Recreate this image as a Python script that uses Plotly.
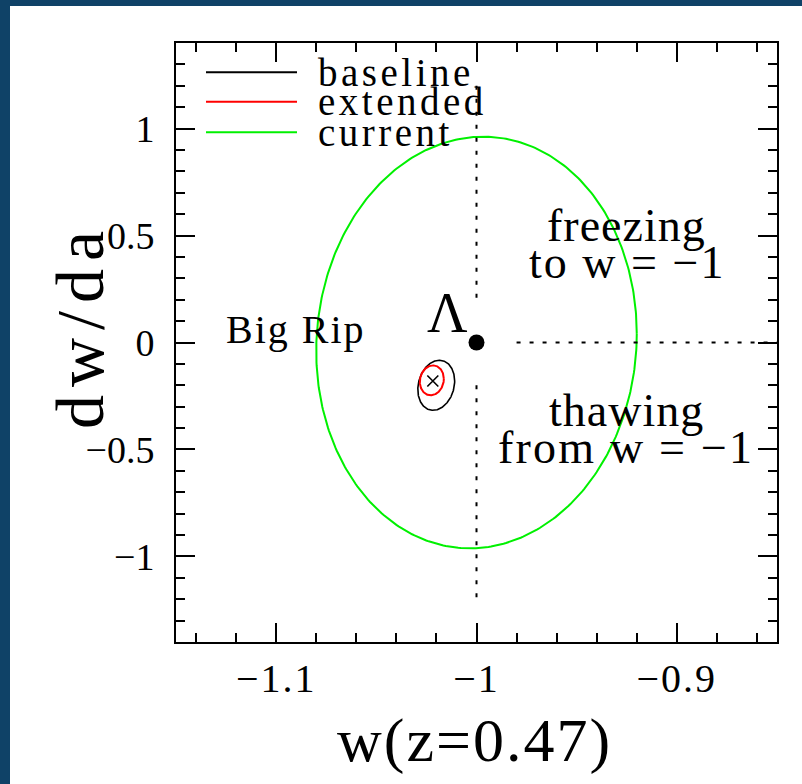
import numpy as np
import plotly.graph_objects as go

# ---- constraint ellipses: centre (w, dw/da), 1-sigma widths and correlation ----
ellipse_names = ["baseline", "extended", "current"]
ellipse_colors = ["black", "red", "#00f000"]
ellipse_cx = [-1.0201, -1.0223, -1.0]
ellipse_cy = [-0.200, -0.177, 0.0]
ellipse_sx = [0.0092, 0.0060, 0.0800]
ellipse_sy = [0.117, 0.070, 0.962]
ellipse_rho = [0.17, 0.10, 0.042]
ellipse_width = [1.6, 2.0, 2.0]

# fiducial model and cosmological constant
fiducial_w, fiducial_wa = -1.0218, -0.180
lambda_w, lambda_wa = -1.0, 0.0

# region boundaries (dotted)
vline_x = [-1.0, -1.0, None, -1.0, -1.0]
vline_y = [1.2, 0.2, None, -0.2, -1.2]
hline_x = [-0.98, -0.85]
hline_y = [0.0, 0.0]

# axis ticks
x_ticks = [-1.1, -1.0, -0.9]
x_ticklabels = ["\u22121.1", "\u22121", "\u22120.9"]
y_ticks = [-1.0, -0.5, 0.0, 0.5, 1.0]
y_ticklabels = ["\u22121", "\u22120.5", "0", "0.5", "1"]

FONT = "Liberation Serif"
W, H = 802, 784
ML, MR, MT, MB = 176, 25, 43, 142
PW, PH = W - ML - MR, H - MT - MB


def px(xp):
    return (xp - ML) / PW


def py(yp):
    return (H - MB - yp) / PH


def spaced(text, sp):
    return f'<span style="letter-spacing:{sp}px">{text}</span>'


fig = go.Figure()

t = np.linspace(0, 2 * np.pi, 400)
for name, col, cx, cy, sx, sy, rho, lw in zip(
        ellipse_names, ellipse_colors, ellipse_cx, ellipse_cy,
        ellipse_sx, ellipse_sy, ellipse_rho, ellipse_width):
    ex = cx + sx * np.cos(t)
    ey = cy + sy * (rho * np.cos(t) + np.sqrt(1 - rho ** 2) * np.sin(t))
    fig.add_trace(go.Scatter(x=ex, y=ey, mode="lines", name=name,
                             line=dict(color=col, width=lw), hoverinfo="skip"))

dot_style = dict(color="black", width=2, dash="4px,9px")
fig.add_trace(go.Scatter(x=vline_x, y=vline_y, mode="lines", line=dot_style,
                         hoverinfo="skip"))
fig.add_trace(go.Scatter(x=hline_x, y=hline_y, mode="lines", line=dot_style,
                         hoverinfo="skip"))

fig.add_trace(go.Scatter(x=[lambda_w], y=[lambda_wa], mode="markers",
                         marker=dict(size=16, color="black")))
fig.add_trace(go.Scatter(x=[fiducial_w], y=[fiducial_wa], mode="markers",
                         marker=dict(symbol="x-thin", size=11, color="black",
                                     line=dict(width=1.6, color="black"))))

ann = []
txt = dict(family=FONT, color="black")


def label(x, y, text, size, **kw):
    ann.append(dict(x=x, y=y, text=text, showarrow=False,
                    font=dict(size=size, **txt), xanchor="center",
                    yanchor="middle", **kw))


label(-1.09, 0.062, spaced("Big Rip", 2), 40)
label(-0.925, 0.545, spaced("freezing", 1), 46)
label(-0.925, 0.372, spaced("to w = \u22121", 2), 46)
label(-0.925, -0.318, spaced("thawing", 1), 46)
label(-0.9255, -0.492, spaced("from w = \u22121", 2.2), 46)
label(-1.0146, 0.139, "\u039b", 56)

# axis titles
ann.append(dict(x=px(474), y=py(740), xref="paper", yref="paper",
                text=spaced("w(z=0.47)", 2), showarrow=False,
                font=dict(size=62, **txt), xanchor="center", yanchor="middle"))
ann.append(dict(x=px(80), y=py(326), xref="paper", yref="paper",
                text=spaced("dw/da", 8), showarrow=False, textangle=-90,
                font=dict(size=68, **txt), xanchor="center", yanchor="middle"))

# legend drawn as sample lines plus labels
shapes = []
leg_y = [72.3, 101.7, 132.3]
for name, col, ly in zip(ellipse_names, ellipse_colors, leg_y):
    shapes.append(dict(type="line", xref="paper", yref="paper",
                       x0=px(206), x1=px(297), y0=py(ly), y1=py(ly),
                       line=dict(color=col, width=2)))
    ann.append(dict(x=px(316), y=py(ly), xref="paper", yref="paper",
                    text=spaced(name, 3.5), showarrow=False,
                    font=dict(size=39, **txt), xanchor="left", yanchor="middle"))

# page border
border = "#0f4267"
shapes.append(dict(type="rect", xref="paper", yref="paper", layer="below",
                   x0=px(0), x1=px(10), y0=py(H), y1=py(0),
                   fillcolor=border, line=dict(width=0)))
shapes.append(dict(type="rect", xref="paper", yref="paper", layer="below",
                   x0=px(0), x1=px(W), y0=py(6), y1=py(0),
                   fillcolor=border, line=dict(width=0)))

axis_common = dict(showgrid=False, zeroline=False, showline=True,
                   linecolor="black", linewidth=2, mirror="ticks",
                   ticks="inside", ticklen=19, tickwidth=2, tickcolor="black")

fig.update_layout(
    width=W, height=H,
    margin=dict(l=ML, r=MR, t=MT, b=MB),
    paper_bgcolor="white", plot_bgcolor="white",
    showlegend=False,
    annotations=ann, shapes=shapes,
    xaxis=dict(range=[-1.15, -0.85], tickvals=x_ticks,
               ticktext=[spaced(s, 2) for s in x_ticklabels],
               tickfont=dict(family=FONT, size=40, color="black"),
               minor=dict(dtick=0.02, tick0=-1.1, ticks="inside", ticklen=9,
                          tickwidth=2, tickcolor="black"),
               ticklabelstandoff=0, **axis_common),
    yaxis=dict(range=[-1.4, 1.4], tickvals=y_ticks,
               ticktext=y_ticklabels,
               tickfont=dict(family=FONT, size=38, color="black"),
               minor=dict(dtick=0.1, tick0=0, ticks="inside", ticklen=9,
                          tickwidth=2, tickcolor="black"),
               ticklabelstandoff=12, **axis_common),
)

fig.write_html("out.html")
